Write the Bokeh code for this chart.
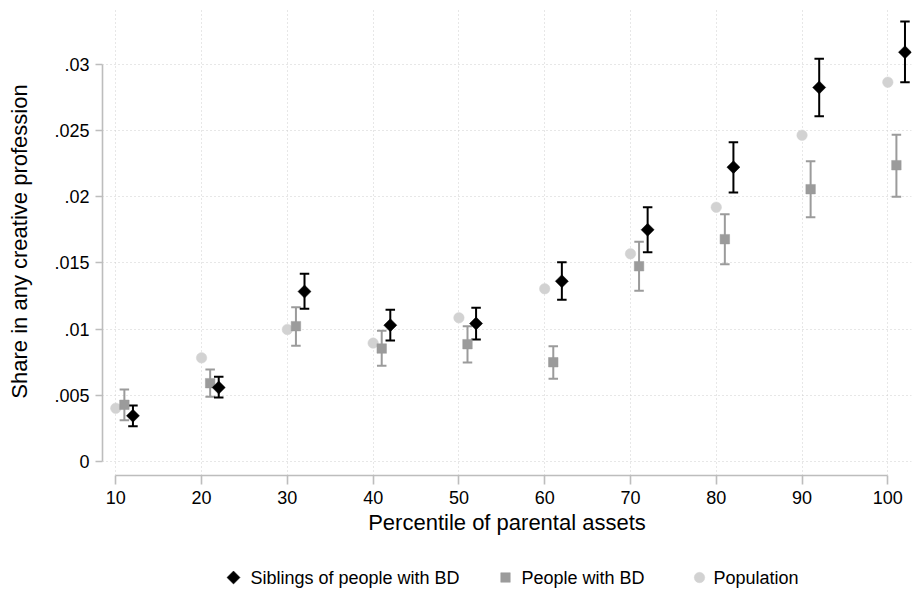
from bokeh.plotting import figure
from bokeh.models import Range1d, FixedTicker
from bokeh.core.properties import value
from bokeh.layouts import column
from bokeh.embed import file_html
from bokeh.resources import INLINE
import numpy as np

# ---- data ----
percentile = [10, 20, 30, 40, 50, 60, 70, 80, 90, 100]

siblings    = [0.00347, 0.00560, 0.01284, 0.01030, 0.01043, 0.01362, 0.01750, 0.02222, 0.02823, 0.03089]
siblings_lo = [0.00269, 0.00485, 0.01154, 0.00914, 0.00922, 0.01222, 0.01580, 0.02031, 0.02606, 0.02863]
siblings_hi = [0.00425, 0.00641, 0.01418, 0.01146, 0.01161, 0.01505, 0.01920, 0.02410, 0.03040, 0.03320]

people_bd    = [0.00430, 0.00593, 0.01023, 0.00854, 0.00887, 0.00751, 0.01475, 0.01679, 0.02056, 0.02237]
people_bd_lo = [0.00314, 0.00490, 0.00875, 0.00724, 0.00749, 0.00626, 0.01290, 0.01490, 0.01845, 0.01998]
people_bd_hi = [0.00545, 0.00697, 0.01166, 0.00988, 0.01023, 0.00872, 0.01660, 0.01867, 0.02267, 0.02466]

population = [0.00404, 0.00784, 0.00998, 0.00895, 0.01086, 0.01305, 0.01569, 0.01920, 0.02463, 0.02863]

series_names = ["Siblings of people with BD", "People with BD", "Population"]

x_ticks = [10, 20, 30, 40, 50, 60, 70, 80, 90, 100]
y_ticks = [0, 0.005, 0.01, 0.015, 0.02, 0.025, 0.03]
y_tick_labels = ["0", ".005", ".01", ".015", ".02", ".025", ".03"]

x_title = "Percentile of parental assets"
y_title = "Share in any creative profession"

# ---- styling / layout ----
FONT = "Liberation Sans"
BLACK = "#000000"
MID = "#9b9b9b"
LIGHT = "#d2d2d2"
AXIS = "#bdbdbd"
GRID = "#cfcfcf"

# legend key and label positions (page pixels, layout only)
LEGEND_KEY_X = [233, 505, 699]
LEGEND_TEXT_X = [250, 521, 713]
LEGEND_Y = 12

pct = np.array(percentile, dtype=float)
x_bd = pct + 1
x_sib = pct + 2

p = figure(width=912, height=540, output_backend="svg", toolbar_location=None,
           x_range=Range1d(8.45, 102.76), y_range=Range1d(-0.001033, 0.034261),
           min_border_left=102, min_border_right=1, min_border_top=7, min_border_bottom=65)
p.outline_line_color = None
p.background_fill_color = "white"
p.border_fill_color = "white"

# grid
p.xgrid.ticker = FixedTicker(ticks=x_ticks)
p.ygrid.ticker = FixedTicker(ticks=y_ticks)
for g in (p.xgrid, p.ygrid):
    g.grid_line_color = GRID
    g.grid_line_dash = "1 3"
    g.grid_line_width = 1

# axes
p.xaxis.ticker = FixedTicker(ticks=x_ticks)
p.yaxis.ticker = FixedTicker(ticks=y_ticks)
p.yaxis.major_label_overrides = {t: l for t, l in zip(y_ticks, y_tick_labels)}
p.xaxis.bounds = (10, 100)
p.yaxis.bounds = (0, 0.03)
for ax in (p.xaxis, p.yaxis):
    ax.axis_line_color = AXIS
    ax.axis_line_width = 1.6
    ax.major_tick_line_color = AXIS
    ax.major_tick_line_width = 1.6
    ax.major_tick_in = 0
    ax.minor_tick_line_color = None
    ax.major_label_text_font = FONT
    ax.major_label_text_font_size = "18px"
    ax.major_label_text_color = BLACK
    ax.axis_label_text_font = FONT
    ax.axis_label_text_font_size = "22px"
    ax.axis_label_text_font_style = "normal"
    ax.axis_label_text_color = BLACK
p.xaxis.major_tick_out = 9
p.xaxis.major_label_standoff = 6
p.xaxis.axis_label_standoff = 3
p.yaxis.major_tick_out = 7
p.yaxis.major_label_standoff = 6
p.yaxis.axis_label_standoff = 19
p.xaxis.axis_label = x_title
p.yaxis.axis_label = y_title

# error bars: stems
p.segment(x0=x_bd, y0=people_bd_lo, x1=x_bd, y1=people_bd_hi, line_color=MID, line_width=2)
p.segment(x0=x_sib, y0=siblings_lo, x1=x_sib, y1=siblings_hi, line_color=BLACK, line_width=2)
# caps
for xs, lo, hi, c in ((x_bd, people_bd_lo, people_bd_hi, MID), (x_sib, siblings_lo, siblings_hi, BLACK)):
    p.scatter(x=xs, y=lo, marker="dash", size=9.5, line_color=c, line_width=2)
    p.scatter(x=xs, y=hi, marker="dash", size=9.5, line_color=c, line_width=2)

# markers
marker_styles = [
    dict(marker="square", angle=np.pi / 4, size=9.2, fill_color=BLACK, line_color=BLACK, line_width=0.5),
    dict(marker="square", size=9.5, fill_color=MID, line_color=MID, line_width=0.5),
    dict(marker="circle", size=10.5, fill_color=LIGHT, line_color=LIGHT, line_width=0.5),
]
p.scatter(x=pct, y=population, **marker_styles[2])
p.scatter(x=x_bd, y=people_bd, **marker_styles[1])
p.scatter(x=x_sib, y=siblings, **marker_styles[0])

# ---- legend strip below the chart (pixel coordinates) ----
leg = figure(width=912, height=49, output_backend="svg", toolbar_location=None,
             x_range=Range1d(102, 911), y_range=Range1d(0, 49),
             min_border_left=102, min_border_right=1, min_border_top=0, min_border_bottom=0)
leg.axis.visible = False
leg.grid.visible = False
leg.outline_line_color = None
leg.background_fill_color = "white"
leg.border_fill_color = "white"
for kx, style in zip(LEGEND_KEY_X, marker_styles):
    leg.scatter(x=[kx], y=[LEGEND_Y], **style)
leg.text(x=LEGEND_TEXT_X, y=[LEGEND_Y] * len(series_names), text=series_names,
         text_font=value(FONT), text_font_size=value("18px"), text_color=BLACK,
         text_baseline="middle", text_align="left")

layout = column(p, leg, spacing=0)
open("out.html", "w").write(file_html(layout, INLINE))
